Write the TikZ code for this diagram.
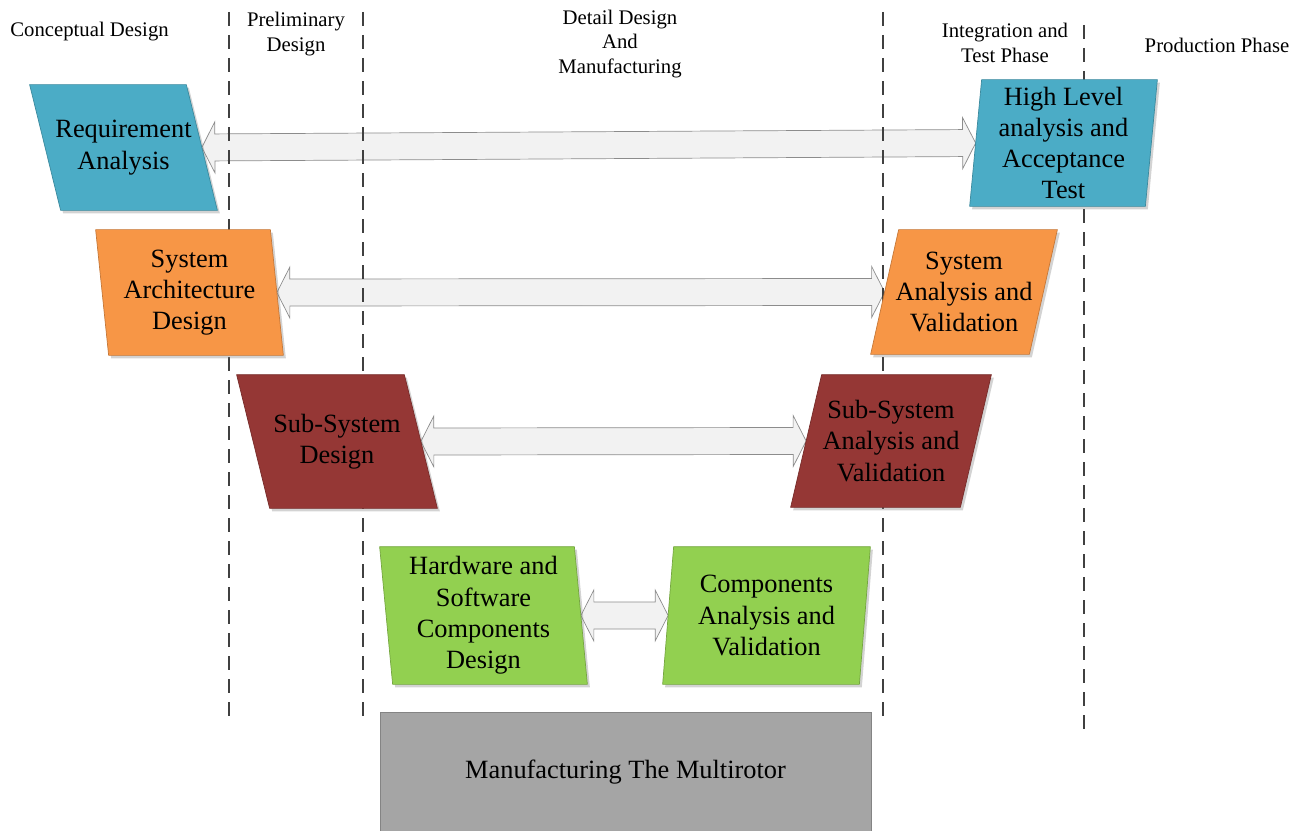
\documentclass[tikz,border=0pt]{standalone}
\usepackage{fontspec}
\setmainfont{Liberation Serif}
\usetikzlibrary{shadows,calc}
\definecolor{reqblue}{HTML}{4BACC6}
\definecolor{sysorange}{HTML}{F79646}
\definecolor{subred}{HTML}{953735}
\definecolor{compgreen}{HTML}{92D050}
\definecolor{mfggray}{HTML}{A5A5A5}
\definecolor{linkfill}{HTML}{F2F2F2}
\pgfdeclarelayer{back}
\pgfdeclarelayer{boxes}
\pgfsetlayers{back,boxes,main}
\begin{document}
\begin{tikzpicture}[x=0.2mm,y=-0.2mm,line join=miter]
  \tikzset{phase label/.style={font=\fontsize{11.8}{14.2}\selectfont,align=center,inner sep=0pt},
    stage/.style={inner sep=0pt,align=center,font=\fontsize{15}{17.8}\selectfont},
    stage box/.style={line width=0.4pt,
      drop shadow={shadow xshift=0.5mm,shadow yshift=-0.6mm,opacity=0.35}},
    phase line/.style={line width=0.3mm,black!75,dash pattern=on 2.8mm off 1.8mm},
    link/.style={draw=black!45,fill=linkfill,line width=0.4pt,
      to path={-- ($(\tikztostart)!2.6mm!(\tikztotarget)!5.1mm!90:(\tikztotarget)$)
        -- ($(\tikztostart)!2.6mm!(\tikztotarget)!2.7mm!90:(\tikztotarget)$)
        -- ($(\tikztotarget)!2.6mm!(\tikztostart)!2.7mm!-90:(\tikztostart)$)
        -- ($(\tikztotarget)!2.6mm!(\tikztostart)!5.1mm!-90:(\tikztostart)$)
        -- (\tikztotarget)
        -- ($(\tikztotarget)!2.6mm!(\tikztostart)!5.1mm!90:(\tikztostart)$)
        -- ($(\tikztotarget)!2.6mm!(\tikztostart)!2.7mm!90:(\tikztostart)$)
        -- ($(\tikztostart)!2.6mm!(\tikztotarget)!2.7mm!-90:(\tikztotarget)$)
        -- ($(\tikztostart)!2.6mm!(\tikztotarget)!5.1mm!-90:(\tikztotarget)$)
        -- cycle}}}
  \useasboundingbox (0,0) rectangle (1306,831);

  \node[phase label,anchor=west] (concept) at (10,32) {Conceptual Design};
  \node[phase label] (prelim) at (296,34) {Preliminary\\Design};
  \node[phase label] (detail) at (620,44) {Detail Design\\And\\Manufacturing};
  \node[phase label] (integ) at (1005,43) {Integration and\\Test Phase};
  \node[phase label] (prod) at (1217,45) {Production Phase};

  \node[stage,minimum width=31.2mm,minimum height=25mm] (req) at (123.5,147.5) {Requirement\\Analysis};
  \node[stage,minimum width=34.8mm,minimum height=25mm] (sysdes) at (189.5,292.5) {System\\Architecture\\Design};
  \node[stage,minimum width=33.4mm,minimum height=26.6mm] (subdes) at (337,441.5) {Sub-System\\Design};
  \node[stage,minimum width=38.8mm,minimum height=27.4mm] (hwsw) at (483.5,615.5) {Hardware and\\Software\\Components\\Design};
  \node[stage,minimum width=39.2mm,minimum height=27.4mm] (compval) at (766.5,615.5) {Components\\Analysis and\\Validation};
  \node[stage,minimum width=33.8mm,minimum height=26.4mm] (subval) at (891,441) {Sub-System\\Analysis and\\Validation};
  \node[stage,minimum width=31.6mm,minimum height=24.8mm] (sysval) at (964,292) {System\\Analysis and\\Validation};
  \node[stage,minimum width=35mm,minimum height=25.2mm] (accept) at (1063.5,143) {High Level\\analysis and\\Acceptance\\Test};

  \node[fill=mfggray,draw=mfggray!80!black,minimum width=98.2mm,minimum height=24.2mm,
    font=\fontsize{15}{17.8}\selectfont] (mfg) at (625.5,772.5) {Manufacturing The Multirotor};

  \begin{pgfonlayer}{boxes}
    \foreach \n/\t/\c in {req/-15.5/reqblue,sysdes/-6.5/sysorange,subdes/-16.5/subred,
        hwsw/-6.5/compgreen,compval/5.5/compgreen,subval/15.5/subred,
        sysval/14/sysorange,accept/6/reqblue}
      \filldraw[stage box,fill=\c,draw=\c!80!black]
        ($(\n.north west)+(\t,0)$) -- ($(\n.north east)+(\t,0)$)
        -- ($(\n.south east)-(\t,0)$) -- ($(\n.south west)-(\t,0)$) -- cycle;
  \end{pgfonlayer}

  \begin{pgfonlayer}{back}
    \draw[link] (req.east) to (accept.west);
    \draw[link] (sysdes.east) to (sysval.west);
    \draw[link] (subdes.east) to (subval.west);
    \draw[link] (hwsw.east) to (compval.west);
    \foreach \x/\ya/\yb in {229/12/725,363/12/722,883/12/725,1084/25/738}
      \draw[phase line] (\x,\ya) -- (\x,\yb);
  \end{pgfonlayer}
\end{tikzpicture}
\end{document}
